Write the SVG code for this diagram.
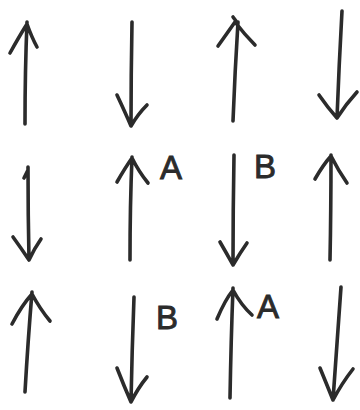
<svg xmlns="http://www.w3.org/2000/svg" width="360" height="410" viewBox="0 0 360 410">
<style>
.a{fill:none;stroke:#2b2b2b;stroke-width:3.6;stroke-linecap:round;stroke-linejoin:round}
.t{font-family:"Liberation Sans","DejaVu Sans",sans-serif;font-size:33px;fill:#2b2b2b;stroke:#2b2b2b;stroke-width:0.9}
</style>
<rect width="360" height="410" fill="#fff"/>
<g id="connectors">
<g id="arrow1"><path class="a" d="M25,124 Q25,70 27,22 M10,53 Q20,35 27,24 Q32,38 37,47"/></g>
<g id="arrow2"><path class="a" d="M132,22 Q131,75 131,126 M117,95 Q125,112 131,126 Q138,114 147,105"/></g>
<g id="arrow3"><path class="a" d="M233,121 Q235,70 238,22 M233,17 L236,21 M218,46 Q228,32 235,22 Q245,35 255,45"/></g>
<g id="arrow4"><path class="a" d="M342,11 Q339,65 337,118 M319,95 Q328,108 337,118 Q346,104 357,92"/></g>
<g id="arrow5"><path class="a" d="M28,167 Q28,215 29,260 M24,178 L28,170 M13,237 Q21,248 29,260 Q34,249 41,239"/></g>
<g id="arrow6"><path class="a" d="M130,260 Q130,205 132,157 M117,182 Q125,168 132,158 Q139,172 148,183"/></g>
<g id="arrow7"><path class="a" d="M234,155 Q233,210 233,265 M220,242 Q227,254 233,265 Q240,253 247,243"/></g>
<g id="arrow8"><path class="a" d="M330,260 Q331,210 331,155 M315,179 Q323,165 331,156 Q338,170 347,183"/></g>
<g id="arrow9"><path class="a" d="M25,392 Q28,340 32,292 M12,324 Q22,305 32,294 Q40,309 50,321"/></g>
<g id="arrow10"><path class="a" d="M134,297 Q132,350 131,402 M117,368 Q124,386 131,402 Q138,388 147,377"/></g>
<g id="arrow11"><path class="a" d="M230,398 Q231,340 233,288 M217,319 Q225,300 233,290 Q241,305 252,315"/></g>
<g id="arrow12"><path class="a" d="M341,287 Q337,345 333,400 M320,368 Q327,385 333,400 Q342,383 353,369"/></g>
</g>
<g id="labels">
<text class="t" x="160" y="179">A</text>
<text class="t" x="254" y="178">B</text>
<text class="t" x="156" y="329">B</text>
<text class="t" x="257" y="318">A</text>
</g>
</svg>
